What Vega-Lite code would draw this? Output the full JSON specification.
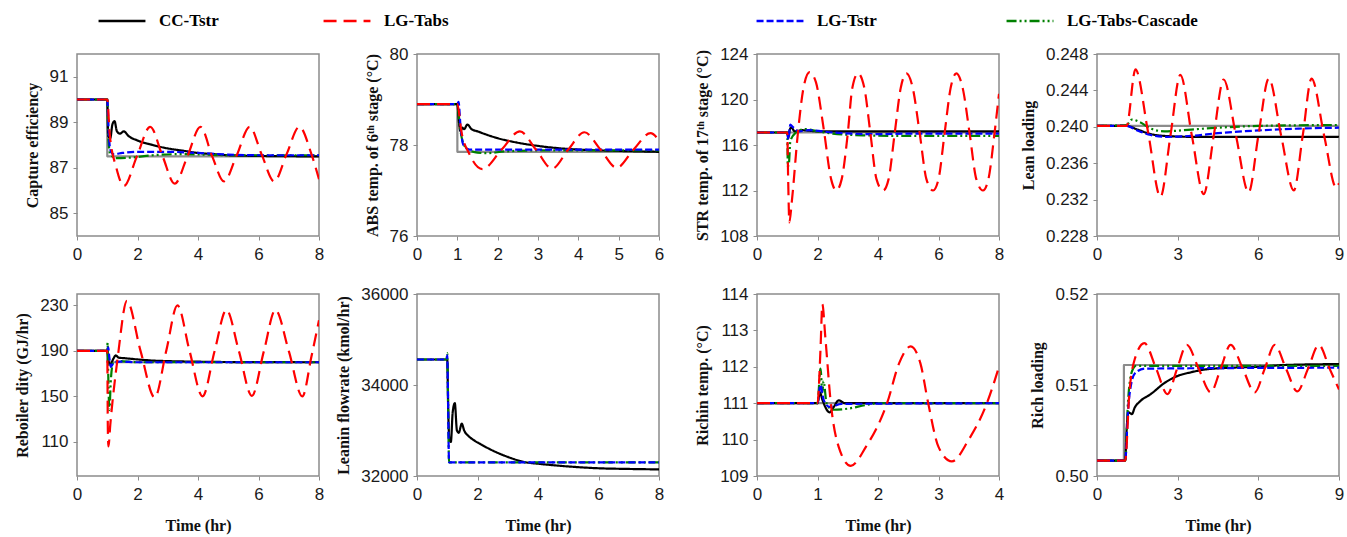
{
"$schema":"https://vega.github.io/schema/vega-lite/v6.json",
"padding":{"left":13,"top":-5,"right":4,"bottom":2},
"background":"white",
"columns":4,
"bounds":"flush",
"spacing":{"row":58,"column":98},
"resolve":{"legend":{"color":"independent","strokeDash":"independent"}},
"config":{
"view":{"stroke":"#8c8c8c","strokeWidth":1.5},
"axis":{"domain":false,"ticks":true,"tickSize":4,"tickColor":"#8c8c8c","grid":false,"labelFont":"Liberation Sans","labelFontSize":17,"labelColor":"#1a1a1a","labelFlush":false,"labelOverlap":false,"titleFont":"Liberation Serif","titleFontWeight":"bold","titleFontSize":16,"titleColor":"#111"},
"axisX":{"labelPadding":6,"titlePadding":15},
"axisY":{"labelPadding":5,"titlePadding":9},
"legend":{"labelFont":"Liberation Serif","labelFontWeight":"bold","labelFontSize":17,"labelColor":"#000","symbolType":"stroke","symbolSize":2200,"symbolStrokeWidth":2.5,"labelOffset":12,"padding":0,"title":null}
},
"datasets":{
"p1":[
{"s":"SP","t":0,"v":90},{"s":"SP","t":1,"v":90},{"s":"SP","t":1.001,"v":87.5},{"s":"SP","t":8,"v":87.5},
{"s":"CC","t":0,"v":90},{"s":"CC","t":1,"v":90},{"s":"CC","t":1.03,"v":88.4},{"s":"CC","t":1.1,"v":88.3},{"s":"CC","t":1.17,"v":88.9},{"s":"CC","t":1.24,"v":89.05},{"s":"CC","t":1.32,"v":88.6},{"s":"CC","t":1.42,"v":88.5},{"s":"CC","t":1.55,"v":88.6},{"s":"CC","t":1.7,"v":88.4},{"s":"CC","t":2,"v":88.2},{"s":"CC","t":2.5,"v":88.0},{"s":"CC","t":3,"v":87.85},{"s":"CC","t":3.5,"v":87.75},{"s":"CC","t":4,"v":87.65},{"s":"CC","t":4.5,"v":87.6},{"s":"CC","t":5,"v":87.55},{"s":"CC","t":6,"v":87.52},{"s":"CC","t":8,"v":87.5},
{"s":"CA","t":0,"v":90},{"s":"CA","t":1,"v":90},{"s":"CA","t":1.04,"v":88.2},{"s":"CA","t":1.1,"v":87.6},{"s":"CA","t":1.3,"v":87.42},{"s":"CA","t":1.8,"v":87.45},{"s":"CA","t":2.5,"v":87.55},{"s":"CA","t":3.5,"v":87.6},{"s":"CA","t":5,"v":87.55},{"s":"CA","t":8,"v":87.55},
{"s":"TS","t":0,"v":90},{"s":"TS","t":1,"v":90},{"s":"TS","t":1.05,"v":88.5},{"s":"TS","t":1.1,"v":87.8},{"s":"TS","t":1.2,"v":87.6},{"s":"TS","t":1.5,"v":87.65},{"s":"TS","t":2,"v":87.7},{"s":"TS","t":3,"v":87.7},{"s":"TS","t":4,"v":87.65},{"s":"TS","t":5,"v":87.58},{"s":"TS","t":6,"v":87.55},{"s":"TS","t":8,"v":87.55},
{"s":"TA","t":0,"v":90},{"s":"TA","t":1,"v":90},{"s":"TA","t":1.08,"v":88.5},{"s":"TA","t":1.3,"v":87.0},{"s":"TA","t":1.55,"v":86.2},{"s":"TA","t":1.98,"v":87.5},{"s":"TA","t":2.42,"v":88.8},{"s":"TA","t":2.83,"v":87.5},{"s":"TA","t":3.23,"v":86.3},{"s":"TA","t":3.65,"v":87.5},{"s":"TA","t":4.08,"v":88.8},{"s":"TA","t":4.47,"v":87.5},{"s":"TA","t":4.86,"v":86.4},{"s":"TA","t":5.28,"v":87.55},{"s":"TA","t":5.71,"v":88.8},{"s":"TA","t":6.1,"v":87.6},{"s":"TA","t":6.52,"v":86.4},{"s":"TA","t":6.93,"v":87.6},{"s":"TA","t":7.35,"v":88.8},{"s":"TA","t":7.75,"v":87.6},{"s":"TA","t":8,"v":86.5}
],
"p2":[
{"s":"SP","t":0,"v":78.9},{"s":"SP","t":1,"v":78.9},{"s":"SP","t":1.001,"v":77.85},{"s":"SP","t":6,"v":77.85},
{"s":"CC","t":0,"v":78.9},{"s":"CC","t":1,"v":78.9},{"s":"CC","t":1.04,"v":78.5},{"s":"CC","t":1.08,"v":78.3},{"s":"CC","t":1.12,"v":78.38},{"s":"CC","t":1.17,"v":78.35},{"s":"CC","t":1.25,"v":78.45},{"s":"CC","t":1.35,"v":78.35},{"s":"CC","t":1.5,"v":78.3},{"s":"CC","t":2,"v":78.15},{"s":"CC","t":2.5,"v":78.05},{"s":"CC","t":3,"v":77.98},{"s":"CC","t":3.5,"v":77.93},{"s":"CC","t":4,"v":77.9},{"s":"CC","t":5,"v":77.87},{"s":"CC","t":6,"v":77.85},
{"s":"CA","t":0,"v":78.9},{"s":"CA","t":1,"v":78.9},{"s":"CA","t":1.03,"v":78.7},{"s":"CA","t":1.08,"v":78.3},{"s":"CA","t":1.2,"v":77.95},{"s":"CA","t":1.4,"v":77.85},{"s":"CA","t":1.7,"v":77.82},{"s":"CA","t":2.2,"v":77.86},{"s":"CA","t":3,"v":77.88},{"s":"CA","t":6,"v":77.88},
{"s":"TS","t":0,"v":78.9},{"s":"TS","t":1,"v":78.9},{"s":"TS","t":1.03,"v":78.95},{"s":"TS","t":1.08,"v":78.4},{"s":"TS","t":1.15,"v":78.0},{"s":"TS","t":1.3,"v":77.9},{"s":"TS","t":2,"v":77.9},{"s":"TS","t":6,"v":77.9},
{"s":"TA","t":0,"v":78.9},{"s":"TA","t":1,"v":78.9},{"s":"TA","t":1.1,"v":78.3},{"s":"TA","t":1.3,"v":77.8},{"s":"TA","t":1.62,"v":77.47},{"s":"TA","t":2.1,"v":77.9},{"s":"TA","t":2.55,"v":78.3},{"s":"TA","t":2.95,"v":77.9},{"s":"TA","t":3.35,"v":77.48},{"s":"TA","t":3.75,"v":77.9},{"s":"TA","t":4.15,"v":78.28},{"s":"TA","t":4.55,"v":77.9},{"s":"TA","t":4.95,"v":77.5},{"s":"TA","t":5.37,"v":77.9},{"s":"TA","t":5.79,"v":78.26},{"s":"TA","t":6,"v":78.1}
],
"p3":[
{"s":"SP","t":0,"v":117.1},{"s":"SP","t":8,"v":117.1},
{"s":"CC","t":0,"v":117.1},{"s":"CC","t":1,"v":117.1},{"s":"CC","t":1.03,"v":116.6},{"s":"CC","t":1.08,"v":117.3},{"s":"CC","t":1.13,"v":117.55},{"s":"CC","t":1.25,"v":117.2},{"s":"CC","t":1.5,"v":117.3},{"s":"CC","t":2,"v":117.2},{"s":"CC","t":8,"v":117.2},
{"s":"CA","t":0,"v":117.1},{"s":"CA","t":1,"v":117.1},{"s":"CA","t":1.02,"v":114.1},{"s":"CA","t":1.06,"v":114.5},{"s":"CA","t":1.1,"v":116.3},{"s":"CA","t":1.25,"v":117.0},{"s":"CA","t":1.6,"v":117.4},{"s":"CA","t":2,"v":117.2},{"s":"CA","t":2.5,"v":117.0},{"s":"CA","t":3.5,"v":116.85},{"s":"CA","t":5,"v":116.8},{"s":"CA","t":8,"v":116.8},
{"s":"TS","t":0,"v":117.1},{"s":"TS","t":1,"v":117.1},{"s":"TS","t":1.04,"v":116.5},{"s":"TS","t":1.1,"v":117.8},{"s":"TS","t":1.18,"v":117.6},{"s":"TS","t":1.4,"v":117.2},{"s":"TS","t":1.7,"v":117.3},{"s":"TS","t":2.5,"v":117.1},{"s":"TS","t":4,"v":116.95},{"s":"TS","t":5,"v":117.0},{"s":"TS","t":8,"v":117.0},
{"s":"TA","t":0,"v":117.1},{"s":"TA","t":1,"v":117.1},{"s":"TA","t":1.03,"v":113},{"s":"TA","t":1.07,"v":109.2},{"s":"TA","t":1.15,"v":111},{"s":"TA","t":1.35,"v":117},{"s":"TA","t":1.55,"v":121.2},{"s":"TA","t":1.74,"v":122.4},{"s":"TA","t":1.95,"v":121.5},{"s":"TA","t":2.2,"v":117.5},{"s":"TA","t":2.45,"v":113},{"s":"TA","t":2.62,"v":112.0},{"s":"TA","t":2.8,"v":113},{"s":"TA","t":3.0,"v":117},{"s":"TA","t":3.15,"v":121},{"s":"TA","t":3.34,"v":122.3},{"s":"TA","t":3.55,"v":121},{"s":"TA","t":3.75,"v":117},{"s":"TA","t":3.95,"v":113},{"s":"TA","t":4.17,"v":112.0},{"s":"TA","t":4.35,"v":113},{"s":"TA","t":4.55,"v":117},{"s":"TA","t":4.75,"v":121},{"s":"TA","t":4.94,"v":122.3},{"s":"TA","t":5.15,"v":121},{"s":"TA","t":5.38,"v":117},{"s":"TA","t":5.6,"v":113},{"s":"TA","t":5.82,"v":112.0},{"s":"TA","t":6.0,"v":113},{"s":"TA","t":6.2,"v":117},{"s":"TA","t":6.4,"v":121},{"s":"TA","t":6.59,"v":122.3},{"s":"TA","t":6.8,"v":121},{"s":"TA","t":7.03,"v":117},{"s":"TA","t":7.25,"v":113},{"s":"TA","t":7.47,"v":112.0},{"s":"TA","t":7.65,"v":113},{"s":"TA","t":7.85,"v":117},{"s":"TA","t":8,"v":120.5}
],
"p4":[
{"s":"SP","t":0,"v":0.2401},{"s":"SP","t":9,"v":0.2401},
{"s":"CC","t":0,"v":0.2401},{"s":"CC","t":1.1,"v":0.2401},{"s":"CC","t":1.5,"v":0.2397},{"s":"CC","t":2,"v":0.2392},{"s":"CC","t":2.5,"v":0.239},{"s":"CC","t":3.5,"v":0.2389},{"s":"CC","t":9,"v":0.2389},
{"s":"CA","t":0,"v":0.2401},{"s":"CA","t":1.1,"v":0.2402},{"s":"CA","t":1.3,"v":0.2408},{"s":"CA","t":1.6,"v":0.2405},{"s":"CA","t":2,"v":0.2398},{"s":"CA","t":2.5,"v":0.2395},{"s":"CA","t":3.5,"v":0.2397},{"s":"CA","t":4.5,"v":0.2399},{"s":"CA","t":6,"v":0.2401},{"s":"CA","t":9,"v":0.2402},
{"s":"TS","t":0,"v":0.2401},{"s":"TS","t":1.1,"v":0.2401},{"s":"TS","t":1.5,"v":0.2396},{"s":"TS","t":2,"v":0.2391},{"s":"TS","t":2.6,"v":0.2389},{"s":"TS","t":3.5,"v":0.239},{"s":"TS","t":4.5,"v":0.2393},{"s":"TS","t":6,"v":0.2396},{"s":"TS","t":7.5,"v":0.2398},{"s":"TS","t":9,"v":0.2399},
{"s":"TA","t":0,"v":0.2401},{"s":"TA","t":1.1,"v":0.2401},{"s":"TA","t":1.43,"v":0.2463},{"s":"TA","t":1.9,"v":0.2394},{"s":"TA","t":2.36,"v":0.2323},{"s":"TA","t":2.73,"v":0.239},{"s":"TA","t":3.1,"v":0.2457},{"s":"TA","t":3.53,"v":0.239},{"s":"TA","t":3.97,"v":0.2326},{"s":"TA","t":4.34,"v":0.239},{"s":"TA","t":4.71,"v":0.2452},{"s":"TA","t":5.17,"v":0.239},{"s":"TA","t":5.64,"v":0.2328},{"s":"TA","t":6.0,"v":0.239},{"s":"TA","t":6.39,"v":0.2453},{"s":"TA","t":6.85,"v":0.239},{"s":"TA","t":7.32,"v":0.233},{"s":"TA","t":7.65,"v":0.239},{"s":"TA","t":7.98,"v":0.2453},{"s":"TA","t":8.45,"v":0.239},{"s":"TA","t":8.9,"v":0.2333},{"s":"TA","t":9,"v":0.2338}
],
"p5":[
{"s":"SP","t":0,"v":190},{"s":"SP","t":1,"v":190},{"s":"SP","t":1.001,"v":180},{"s":"SP","t":8,"v":180},
{"s":"CC","t":0,"v":190},{"s":"CC","t":1,"v":190},{"s":"CC","t":1.05,"v":180},{"s":"CC","t":1.1,"v":178},{"s":"CC","t":1.2,"v":183},{"s":"CC","t":1.28,"v":186},{"s":"CC","t":1.38,"v":184},{"s":"CC","t":1.6,"v":183.5},{"s":"CC","t":2,"v":182.5},{"s":"CC","t":2.5,"v":181.5},{"s":"CC","t":3,"v":181},{"s":"CC","t":4,"v":180.5},{"s":"CC","t":5,"v":180.2},{"s":"CC","t":8,"v":180},
{"s":"CA","t":0,"v":190},{"s":"CA","t":1,"v":190},{"s":"CA","t":1.01,"v":197},{"s":"CA","t":1.04,"v":160},{"s":"CA","t":1.07,"v":138},{"s":"CA","t":1.12,"v":165},{"s":"CA","t":1.2,"v":180},{"s":"CA","t":1.4,"v":181},{"s":"CA","t":2,"v":180},{"s":"CA","t":8,"v":180},
{"s":"TS","t":0,"v":190},{"s":"TS","t":1,"v":190},{"s":"TS","t":1.03,"v":193},{"s":"TS","t":1.07,"v":184},{"s":"TS","t":1.12,"v":176},{"s":"TS","t":1.2,"v":179},{"s":"TS","t":1.4,"v":180.5},{"s":"TS","t":2,"v":180},{"s":"TS","t":8,"v":180},
{"s":"TA","t":0,"v":190},{"s":"TA","t":1,"v":190},{"s":"TA","t":1.02,"v":120},{"s":"TA","t":1.04,"v":106},{"s":"TA","t":1.1,"v":125},{"s":"TA","t":1.35,"v":185},{"s":"TA","t":1.65,"v":234},{"s":"TA","t":2.1,"v":190},{"s":"TA","t":2.57,"v":149},{"s":"TA","t":2.95,"v":190},{"s":"TA","t":3.32,"v":230},{"s":"TA","t":3.72,"v":190},{"s":"TA","t":4.15,"v":150},{"s":"TA","t":4.55,"v":190},{"s":"TA","t":4.94,"v":226},{"s":"TA","t":5.35,"v":190},{"s":"TA","t":5.78,"v":150.5},{"s":"TA","t":6.18,"v":190},{"s":"TA","t":6.56,"v":226},{"s":"TA","t":7.0,"v":190},{"s":"TA","t":7.45,"v":150},{"s":"TA","t":7.75,"v":185},{"s":"TA","t":8,"v":217}
],
"p6":[
{"s":"CC","t":0,"v":34560},{"s":"CC","t":1,"v":34560},{"s":"CC","t":1.03,"v":33500},{"s":"CC","t":1.07,"v":32800},{"s":"CC","t":1.12,"v":32750},{"s":"CC","t":1.18,"v":33400},{"s":"CC","t":1.25,"v":33600},{"s":"CC","t":1.32,"v":33000},{"s":"CC","t":1.38,"v":32950},{"s":"CC","t":1.48,"v":33150},{"s":"CC","t":1.56,"v":33000},{"s":"CC","t":1.7,"v":32880},{"s":"CC","t":1.85,"v":32800},{"s":"CC","t":2.1,"v":32700},{"s":"CC","t":2.5,"v":32560},{"s":"CC","t":3,"v":32420},{"s":"CC","t":3.6,"v":32300},{"s":"CC","t":4,"v":32270},{"s":"CC","t":5,"v":32210},{"s":"CC","t":6,"v":32170},{"s":"CC","t":7,"v":32155},{"s":"CC","t":8,"v":32145},
{"s":"CA","t":0,"v":34560},{"s":"CA","t":0.98,"v":34560},{"s":"CA","t":1.0,"v":34700},{"s":"CA","t":1.02,"v":34000},{"s":"CA","t":1.06,"v":32300},{"s":"CA","t":8,"v":32300},
{"s":"TS","t":0,"v":34560},{"s":"TS","t":0.98,"v":34560},{"s":"TS","t":1.0,"v":34650},{"s":"TS","t":1.02,"v":34000},{"s":"TS","t":1.06,"v":32300},{"s":"TS","t":8,"v":32300}
],
"p7":[
{"s":"SP","t":0,"v":111},{"s":"SP","t":4,"v":111},
{"s":"CC","t":0,"v":111},{"s":"CC","t":1,"v":111},{"s":"CC","t":1.04,"v":111.3},{"s":"CC","t":1.08,"v":111.1},{"s":"CC","t":1.2,"v":110.75},{"s":"CC","t":1.27,"v":110.9},{"s":"CC","t":1.35,"v":111.08},{"s":"CC","t":1.45,"v":111},{"s":"CC","t":4,"v":111},
{"s":"CA","t":0,"v":111},{"s":"CA","t":1,"v":111},{"s":"CA","t":1.05,"v":111.95},{"s":"CA","t":1.08,"v":111.3},{"s":"CA","t":1.1,"v":111.6},{"s":"CA","t":1.15,"v":111.0},{"s":"CA","t":1.25,"v":110.82},{"s":"CA","t":1.5,"v":110.85},{"s":"CA","t":1.8,"v":110.95},{"s":"CA","t":2,"v":111},{"s":"CA","t":4,"v":111},
{"s":"TS","t":0,"v":111},{"s":"TS","t":1,"v":111},{"s":"TS","t":1.05,"v":111.5},{"s":"TS","t":1.1,"v":111.1},{"s":"TS","t":1.2,"v":110.9},{"s":"TS","t":1.4,"v":110.98},{"s":"TS","t":4,"v":111},
{"s":"TA","t":0,"v":111},{"s":"TA","t":1,"v":111},{"s":"TA","t":1.05,"v":112.5},{"s":"TA","t":1.08,"v":113.72},{"s":"TA","t":1.13,"v":112.8},{"s":"TA","t":1.22,"v":111},{"s":"TA","t":1.35,"v":109.8},{"s":"TA","t":1.55,"v":109.28},{"s":"TA","t":1.8,"v":109.8},{"s":"TA","t":2.15,"v":111},{"s":"TA","t":2.35,"v":112.1},{"s":"TA","t":2.54,"v":112.56},{"s":"TA","t":2.7,"v":112.1},{"s":"TA","t":2.83,"v":111},{"s":"TA","t":3.0,"v":109.8},{"s":"TA","t":3.22,"v":109.4},{"s":"TA","t":3.5,"v":110},{"s":"TA","t":3.8,"v":111},{"s":"TA","t":4,"v":112}
],
"p8":[
{"s":"SP","t":0,"v":0.5017},{"s":"SP","t":1,"v":0.5017},{"s":"SP","t":1.001,"v":0.5122},{"s":"SP","t":9,"v":0.5122},
{"s":"CC","t":0,"v":0.5017},{"s":"CC","t":1.05,"v":0.5017},{"s":"CC","t":1.1,"v":0.505},{"s":"CC","t":1.17,"v":0.507},{"s":"CC","t":1.3,"v":0.5068},{"s":"CC","t":1.4,"v":0.5075},{"s":"CC","t":1.6,"v":0.5082},{"s":"CC","t":2,"v":0.509},{"s":"CC","t":2.5,"v":0.5102},{"s":"CC","t":3,"v":0.511},{"s":"CC","t":3.5,"v":0.5114},{"s":"CC","t":4,"v":0.5117},{"s":"CC","t":5,"v":0.5119},{"s":"CC","t":6,"v":0.512},{"s":"CC","t":7,"v":0.5122},{"s":"CC","t":9,"v":0.5123},
{"s":"CA","t":0,"v":0.5017},{"s":"CA","t":1.05,"v":0.5017},{"s":"CA","t":1.15,"v":0.508},{"s":"CA","t":1.3,"v":0.5115},{"s":"CA","t":1.45,"v":0.5121},{"s":"CA","t":2,"v":0.5121},{"s":"CA","t":9,"v":0.5121},
{"s":"TS","t":0,"v":0.5017},{"s":"TS","t":1.05,"v":0.5017},{"s":"TS","t":1.15,"v":0.507},{"s":"TS","t":1.3,"v":0.5105},{"s":"TS","t":1.45,"v":0.5114},{"s":"TS","t":1.8,"v":0.5118},{"s":"TS","t":9,"v":0.5119},
{"s":"TA","t":0,"v":0.5017},{"s":"TA","t":1.05,"v":0.5017},{"s":"TA","t":1.2,"v":0.509},{"s":"TA","t":1.4,"v":0.5128},{"s":"TA","t":1.76,"v":0.5146},{"s":"TA","t":2.2,"v":0.5118},{"s":"TA","t":2.62,"v":0.509},{"s":"TA","t":2.98,"v":0.5118},{"s":"TA","t":3.34,"v":0.5144},{"s":"TA","t":3.78,"v":0.5118},{"s":"TA","t":4.23,"v":0.5092},{"s":"TA","t":4.6,"v":0.5118},{"s":"TA","t":4.97,"v":0.5144},{"s":"TA","t":5.42,"v":0.5118},{"s":"TA","t":5.87,"v":0.5092},{"s":"TA","t":6.24,"v":0.5118},{"s":"TA","t":6.61,"v":0.5144},{"s":"TA","t":7.03,"v":0.5118},{"s":"TA","t":7.45,"v":0.5093},{"s":"TA","t":7.85,"v":0.5118},{"s":"TA","t":8.25,"v":0.5144},{"s":"TA","t":8.65,"v":0.5118},{"s":"TA","t":9,"v":0.5095}
]
},
"concat":[
{"width":242,"height":182,"data":{"name":"p1"},"mark":{"type":"line","interpolate":"monotone","clip":true,"strokeWidth":2.2},
"encoding":{
"x":{"field":"t","type":"quantitative","scale":{"domain":[0,8],"nice":false},"axis":{"values":[0,2,4,6,8],"title":null}},
"y":{"field":"v","type":"quantitative","scale":{"domain":[84,92],"nice":false,"zero":false},"axis":{"values":[85,87,89,91],"format":"d","title":"Capture efficiency"}},
"color":{"field":"s","type":"nominal","scale":{"domain":["SP","CC","CA","TS","TA"],"range":["#8c8c8c","#000000","#008000","#0000ff","#ff0000"]},"legend":{"values":["CC"],"orient":"none","legendX":20,"legendY":-58,"labelExpr":"{'CC':'CC-Tstr','TA':'LG-Tabs','TS':'LG-Tstr','CA':'LG-Tabs-Cascade'}[datum.label]"}},
"strokeDash":{"field":"s","type":"nominal","scale":{"domain":["SP","CC","CA","TS","TA"],"range":[[1,0],[1,0],[10,3,2,3,2,3],[7,3],[13,7]]},"legend":{"values":["CC"],"orient":"none","legendX":20,"legendY":-58,"labelExpr":"{'CC':'CC-Tstr','TA':'LG-Tabs','TS':'LG-Tstr','CA':'LG-Tabs-Cascade'}[datum.label]"}}
}},
{"width":242,"height":182,"data":{"name":"p2"},"mark":{"type":"line","interpolate":"monotone","clip":true,"strokeWidth":2.2},
"encoding":{
"x":{"field":"t","type":"quantitative","scale":{"domain":[0,6],"nice":false},"axis":{"values":[0,1,2,3,4,5,6],"title":null}},
"y":{"field":"v","type":"quantitative","scale":{"domain":[76,80],"nice":false,"zero":false},"axis":{"values":[76,78,80],"format":"d","title":"ABS temp. of 6ᵗʰ stage (°C)"}},
"color":{"field":"s","type":"nominal","scale":{"domain":["SP","CC","CA","TS","TA"],"range":["#8c8c8c","#000000","#008000","#0000ff","#ff0000"]},"legend":{"values":["TA"],"orient":"none","legendX":-95,"legendY":-58,"labelExpr":"{'CC':'CC-Tstr','TA':'LG-Tabs','TS':'LG-Tstr','CA':'LG-Tabs-Cascade'}[datum.label]"}},
"strokeDash":{"field":"s","type":"nominal","scale":{"domain":["SP","CC","CA","TS","TA"],"range":[[1,0],[1,0],[10,3,2,3,2,3],[7,3],[13,7]]},"legend":{"values":["TA"],"orient":"none","legendX":-95,"legendY":-58,"labelExpr":"{'CC':'CC-Tstr','TA':'LG-Tabs','TS':'LG-Tstr','CA':'LG-Tabs-Cascade'}[datum.label]"}}
}},
{"width":242,"height":182,"data":{"name":"p3"},"mark":{"type":"line","interpolate":"monotone","clip":true,"strokeWidth":2.2},
"encoding":{
"x":{"field":"t","type":"quantitative","scale":{"domain":[0,8],"nice":false},"axis":{"values":[0,2,4,6,8],"title":null}},
"y":{"field":"v","type":"quantitative","scale":{"domain":[108,124],"nice":false,"zero":false},"axis":{"values":[108,112,116,120,124],"format":"d","title":"STR temp. of 17ᵗʰ stage (°C)"}},
"color":{"field":"s","type":"nominal","scale":{"domain":["SP","CC","CA","TS","TA"],"range":["#8c8c8c","#000000","#008000","#0000ff","#ff0000"]},"legend":{"values":["TS"],"orient":"none","legendX":-2,"legendY":-58,"labelExpr":"{'CC':'CC-Tstr','TA':'LG-Tabs','TS':'LG-Tstr','CA':'LG-Tabs-Cascade'}[datum.label]"}},
"strokeDash":{"field":"s","type":"nominal","scale":{"domain":["SP","CC","CA","TS","TA"],"range":[[1,0],[1,0],[10,3,2,3,2,3],[7,3],[13,7]]},"legend":{"values":["TS"],"orient":"none","legendX":-2,"legendY":-58,"labelExpr":"{'CC':'CC-Tstr','TA':'LG-Tabs','TS':'LG-Tstr','CA':'LG-Tabs-Cascade'}[datum.label]"}}
}},
{"width":242,"height":182,"data":{"name":"p4"},"mark":{"type":"line","interpolate":"monotone","clip":true,"strokeWidth":2.2},
"encoding":{
"x":{"field":"t","type":"quantitative","scale":{"domain":[0,9],"nice":false},"axis":{"values":[0,3,6,9],"title":null}},
"y":{"field":"v","type":"quantitative","scale":{"domain":[0.228,0.248],"nice":false,"zero":false},"axis":{"values":[0.228,0.232,0.236,0.24,0.244,0.248],"format":".3f","title":"Lean loading"}},
"color":{"field":"s","type":"nominal","scale":{"domain":["SP","CC","CA","TS","TA"],"range":["#8c8c8c","#000000","#008000","#0000ff","#ff0000"]},"legend":{"values":["CA"],"orient":"none","legendX":-92,"legendY":-58,"labelExpr":"{'CC':'CC-Tstr','TA':'LG-Tabs','TS':'LG-Tstr','CA':'LG-Tabs-Cascade'}[datum.label]"}},
"strokeDash":{"field":"s","type":"nominal","scale":{"domain":["SP","CC","CA","TS","TA"],"range":[[1,0],[1,0],[10,3,2,3,2,3],[7,3],[13,7]]},"legend":{"values":["CA"],"orient":"none","legendX":-92,"legendY":-58,"labelExpr":"{'CC':'CC-Tstr','TA':'LG-Tabs','TS':'LG-Tstr','CA':'LG-Tabs-Cascade'}[datum.label]"}}
}},
{"width":242,"height":182,"data":{"name":"p5"},"mark":{"type":"line","interpolate":"monotone","clip":true,"strokeWidth":2.2},
"encoding":{
"x":{"field":"t","type":"quantitative","scale":{"domain":[0,8],"nice":false},"axis":{"values":[0,2,4,6,8],"title":"Time (hr)"}},
"y":{"field":"v","type":"quantitative","scale":{"domain":[80,240],"nice":false,"zero":false},"axis":{"values":[110,150,190,230],"format":"d","title":"Reboiler dity (GJ/hr)"}},
"color":{"field":"s","type":"nominal","scale":{"domain":["SP","CC","CA","TS","TA"],"range":["#8c8c8c","#000000","#008000","#0000ff","#ff0000"]},"legend":null},
"strokeDash":{"field":"s","type":"nominal","scale":{"domain":["SP","CC","CA","TS","TA"],"range":[[1,0],[1,0],[10,3,2,3,2,3],[7,3],[13,7]]},"legend":null}
}},
{"width":242,"height":182,"data":{"name":"p6"},"mark":{"type":"line","interpolate":"monotone","clip":true,"strokeWidth":2.2},
"encoding":{
"x":{"field":"t","type":"quantitative","scale":{"domain":[0,8],"nice":false},"axis":{"values":[0,2,4,6,8],"title":"Time (hr)"}},
"y":{"field":"v","type":"quantitative","scale":{"domain":[32000,36000],"nice":false,"zero":false},"axis":{"values":[32000,34000,36000],"format":"d","title":"Leanin flowrate (kmol/hr)"}},
"color":{"field":"s","type":"nominal","scale":{"domain":["SP","CC","CA","TS","TA"],"range":["#8c8c8c","#000000","#008000","#0000ff","#ff0000"]},"legend":null},
"strokeDash":{"field":"s","type":"nominal","scale":{"domain":["SP","CC","CA","TS","TA"],"range":[[1,0],[1,0],[10,3,2,3,2,3],[7,3],[13,7]]},"legend":null}
}},
{"width":242,"height":182,"data":{"name":"p7"},"mark":{"type":"line","interpolate":"monotone","clip":true,"strokeWidth":2.2},
"encoding":{
"x":{"field":"t","type":"quantitative","scale":{"domain":[0,4],"nice":false},"axis":{"values":[0,1,2,3,4],"title":"Time (hr)"}},
"y":{"field":"v","type":"quantitative","scale":{"domain":[109,114],"nice":false,"zero":false},"axis":{"values":[109,110,111,112,113,114],"format":"d","title":"Richin temp. (°C)"}},
"color":{"field":"s","type":"nominal","scale":{"domain":["SP","CC","CA","TS","TA"],"range":["#8c8c8c","#000000","#008000","#0000ff","#ff0000"]},"legend":null},
"strokeDash":{"field":"s","type":"nominal","scale":{"domain":["SP","CC","CA","TS","TA"],"range":[[1,0],[1,0],[10,3,2,3,2,3],[7,3],[13,7]]},"legend":null}
}},
{"width":242,"height":182,"data":{"name":"p8"},"mark":{"type":"line","interpolate":"monotone","clip":true,"strokeWidth":2.2},
"encoding":{
"x":{"field":"t","type":"quantitative","scale":{"domain":[0,9],"nice":false},"axis":{"values":[0,3,6,9],"title":"Time (hr)"}},
"y":{"field":"v","type":"quantitative","scale":{"domain":[0.5,0.52],"nice":false,"zero":false},"axis":{"values":[0.5,0.51,0.52],"format":".2f","title":"Rich loading"}},
"color":{"field":"s","type":"nominal","scale":{"domain":["SP","CC","CA","TS","TA"],"range":["#8c8c8c","#000000","#008000","#0000ff","#ff0000"]},"legend":null},
"strokeDash":{"field":"s","type":"nominal","scale":{"domain":["SP","CC","CA","TS","TA"],"range":[[1,0],[1,0],[10,3,2,3,2,3],[7,3],[13,7]]},"legend":null}
}}
]
}
